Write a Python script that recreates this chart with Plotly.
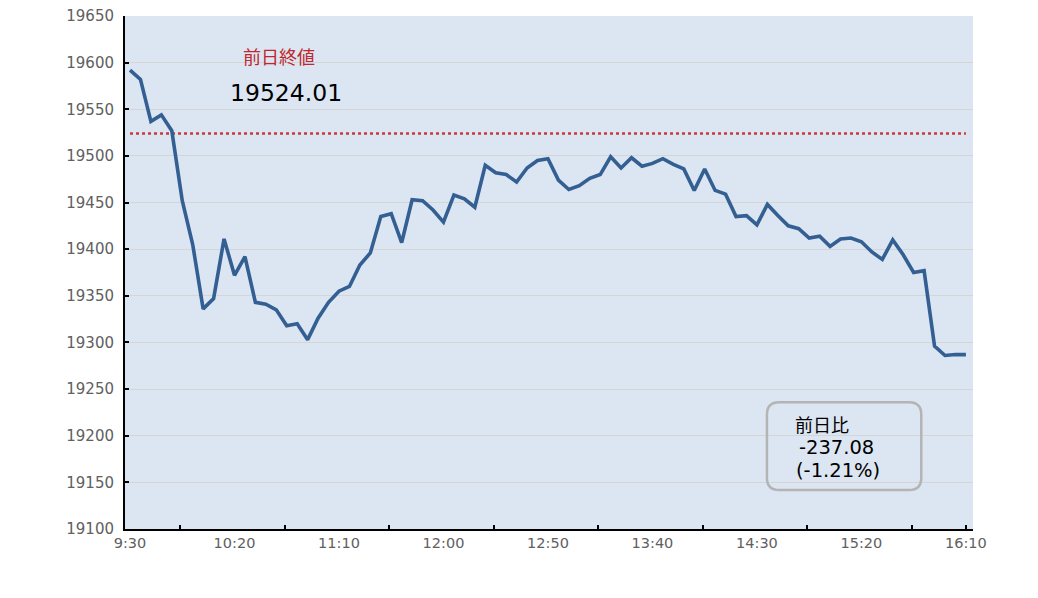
import plotly.graph_objects as go

# ---- data ----
start_label = "9:30"
step_minutes = 5
prices = [
    19592, 19582, 19537, 19544, 19527, 19452, 19405, 19336, 19347, 19411,
    19372, 19392, 19343, 19341, 19335, 19318, 19320, 19303, 19326, 19343,
    19355, 19360, 19383, 19396, 19435, 19438, 19407, 19453, 19452, 19442,
    19429, 19458, 19454, 19445, 19490, 19482, 19480, 19472, 19487, 19495,
    19497, 19474, 19464, 19468, 19476, 19480, 19499, 19487, 19498, 19489,
    19492, 19497, 19491, 19486, 19463, 19486, 19463, 19459, 19435, 19436,
    19426, 19448, 19436, 19425, 19422, 19412, 19414, 19403, 19411, 19412,
    19408, 19397, 19389, 19410, 19394, 19375, 19377, 19296, 19286, 19287,
    19286.93,
]
prev_close = 19524.01
change = -237.08
change_pct = -1.21
label_times = ["9:30", "10:20", "11:10", "12:00", "12:50", "13:40", "14:30", "15:20", "16:10"]
tick_mark_times = ["9:54", "10:44", "11:34", "12:24", "13:14", "14:04", "14:54", "15:44", "16:10"]
y_ticks = [19100, 19150, 19200, 19250, 19300, 19350, 19400, 19450, 19500, 19550, 19600, 19650]


def to_min(t):
    h, m = t.split(":")
    h0, m0 = start_label.split(":")
    return (int(h) * 60 + int(m)) - (int(h0) * 60 + int(m0))


x_vals = [i * step_minutes for i in range(len(prices))]

font_cjk = "Noto Sans CJK JP"
font_num = "DejaVu Sans, Noto Sans CJK JP"
fig = go.Figure()

fig.add_trace(go.Scatter(
    x=[x_vals[0], x_vals[-1]], y=[prev_close, prev_close], mode="lines",
    line=dict(color="#c8383c", width=2.6, dash="dot"), hoverinfo="skip", showlegend=False,
))
fig.add_trace(go.Scatter(
    x=x_vals, y=prices, mode="lines",
    line=dict(color="#335f92", width=3.6), showlegend=False,
))

fig.update_layout(
    width=1038, height=598,
    margin=dict(l=117, r=73, t=8, b=77, autoexpand=False),
    paper_bgcolor="white", plot_bgcolor="#dce6f2",
    font=dict(family=font_num, color="#606060", size=15),
    xaxis=dict(
        range=[-2.4, 403.4], automargin=False,
        tickvals=[to_min(t) for t in label_times], ticktext=label_times,
        ticks="", showgrid=False, zeroline=False,
        showline=True, linecolor="black", linewidth=2,
        tickfont=dict(family=font_num, size=14.5, color="#606060"),
        ticklabeloverflow="allow",
        minor=dict(tickvals=[to_min(t) for t in tick_mark_times], ticks="inside",
                   ticklen=4, tickwidth=2, tickcolor="black", showgrid=False),
    ),
    yaxis=dict(
        range=[19100, 19650], tickvals=y_ticks, tickformat="d", automargin=False,
        ticks="inside", ticklen=4, tickwidth=1.5, tickcolor="black",
        showgrid=True, gridcolor="#d5d5d5", gridwidth=1.2, zeroline=False,
        showline=True, linecolor="black", linewidth=2,
        tickfont=dict(family=font_num, size=15, color="#606060"),
        ticklabelstandoff=6, ticklabeloverflow="allow",
    ),
)

# rounded box (paper coordinates)
x0, x1, y0, y1 = 0.757, 0.939, 0.076, 0.247
rx, ry = 0.0145, 0.024
path = (f"M {x0+rx},{y0} L {x1-rx},{y0} Q {x1},{y0} {x1},{y0+ry} "
        f"L {x1},{y1-ry} Q {x1},{y1} {x1-rx},{y1} L {x0+rx},{y1} "
        f"Q {x0},{y1} {x0},{y1-ry} L {x0},{y0+ry} Q {x0},{y0} {x0+rx},{y0} Z")
fig.add_shape(type="path", path=path, xref="paper", yref="paper",
              line=dict(color="#b4b4b4", width=2.5), fillcolor="rgba(0,0,0,0)")


def py(screen_y):
    return 1 - (screen_y - 16) / 513.0


def px(screen_x):
    return (screen_x - 125) / 848.0


def label(sx, sy, text, size, color, family):
    fig.add_annotation(x=px(sx), y=py(sy), xref="paper", yref="paper", text=text,
                       xanchor="left", yanchor="top", showarrow=False,
                       font=dict(family=family, size=size, color=color))


label(241.0, 41.5, "前日終値", 18, "#c0272d", font_cjk)
label(227.7, 77.0, f"{prev_close:.2f}", 23.5, "black", font_num)
label(793.3, 408.7, "前日比", 18, "black", font_cjk)
label(796.7, 434.0, f"{change:.2f}", 19.5, "black", font_num)
label(794.3, 457.0, f"({change_pct:.2f}%)", 19.5, "black", font_num)

fig.write_html("out.html")
